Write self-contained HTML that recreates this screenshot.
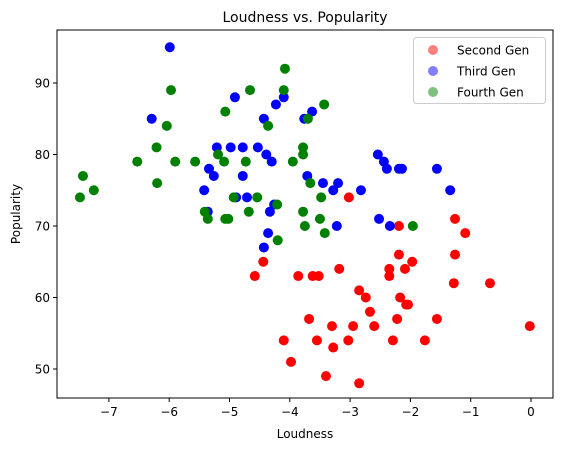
<!DOCTYPE html>
<html><head><meta charset="utf-8">
<style>
html,body{margin:0;padding:0;background:#fff;}
svg{display:block;font-family:"DejaVu Sans","Liberation Sans",sans-serif;}
</style></head>
<body>
<svg id="chart" width="563" height="453" xmlns="http://www.w3.org/2000/svg">
<g id="marks"></g>
<g id="axes"></g>
</svg>
<script>
const secondGenLoudness = [-1.26,-1.09,-2.19,-2.19,-1.97,-1.26,-2.35,-2.35,-2.09,-4.44,-4.58,-3.86,-3.62,-3.52,-3.18,-1.28,-0.68,-2.85,-2.74,-2.17,-2.07,-2.04,-2.67,-3.68,-2.22,-1.56,-3.30,-2.95,-2.60,-0.02,-4.10,-3.55,-3.03,-2.29,-1.76,-3.28,-3.98,-3.40,-2.85,-3.02];
const secondGenPopularity = [71,69,70,66,65,66,64,63,64,65,63,63,63,63,64,62,62,61,60,60,59,59,58,57,57,57,56,56,56,56,54,54,54,54,54,53,51,49,48,74];
const thirdGenLoudness = [-5.99,-4.91,-4.10,-4.23,-6.29,-4.43,-3.76,-5.21,-4.98,-4.78,-4.53,-4.39,-4.30,-5.34,-5.26,-4.78,-5.42,-4.89,-4.71,-4.26,-4.33,-5.36,-3.71,-3.63,-3.45,-3.20,-3.28,-2.82,-2.54,-2.44,-2.39,-2.19,-2.14,-2.52,-2.34,-3.22,-4.36,-4.43,-1.56,-1.34];
const thirdGenPopularity = [95,88,88,87,85,85,85,81,81,81,81,80,79,78,77,77,75,74,74,73,72,72,77,86,76,76,75,75,80,79,78,78,78,71,70,70,69,67,78,75];
const fourthGenLoudness = [-4.08,-5.97,-4.66,-4.10,-5.07,-6.04,-4.36,-6.21,-3.78,-5.19,-3.78,-6.53,-5.90,-5.57,-5.09,-4.73,-3.95,-7.43,-6.20,-7.25,-7.48,-4.93,-4.54,-4.21,-4.68,-5.41,-3.78,-5.36,-5.02,-3.43,-3.70,-3.66,-3.48,-3.75,-3.50,-3.42,-4.20,-1.96,-5.07];
const fourthGenPopularity = [92,89,89,89,86,84,84,81,81,80,80,79,79,79,79,79,79,77,76,75,74,74,74,73,72,72,72,71,71,87,85,76,74,70,71,69,68,70,71];
const xTicks = [-7,-6,-5,-4,-3,-2,-1,0];
const yTicks = [50,60,70,80,90];
const legendLabels = ["Second Gen","Third Gen","Fourth Gen"];

const NS="http://www.w3.org/2000/svg";
const L=57,R=553,T=30,B=398;
function xs(v){return 531+v*60.3;}
function ys(v){return 369-(v-50)*7.15;}
function mk(tag,attrs,parent){const e=document.createElementNS(NS,tag);for(const k in attrs)e.setAttribute(k,attrs[k]);parent.appendChild(e);return e;}
const marks=document.getElementById('marks');
const axes=document.getElementById('axes');
const series=[[secondGenLoudness,secondGenPopularity,'red','second-gen-point'],[thirdGenLoudness,thirdGenPopularity,'blue','third-gen-point'],[fourthGenLoudness,fourthGenPopularity,'green','fourth-gen-point']];
series.forEach(s=>{
  for(let i=0;i<s[0].length;i++){
    const c=mk('circle',{cx:xs(s[0][i]),cy:ys(s[1][i]),r:5,fill:s[2]},marks);
    
    
  }
});
const frame=mk('rect',{x:L,y:T,width:R-L,height:B-T,fill:'none',stroke:'#000','stroke-width':1},axes);


xTicks.forEach(t=>{
  const x=xs(t);
  mk('line',{x1:x,x2:x,y1:B,y2:B+4,stroke:'#000'},axes);
  const tx=mk('text',{x:x,y:B+18,'text-anchor':'middle','font-size':12},axes);
  tx.textContent=(t<0?'\u2212'+(-t):t);
  
  
});
yTicks.forEach(t=>{
  const y=ys(t);
  mk('line',{x1:L-4,x2:L,y1:y,y2:y,stroke:'#000'},axes);
  const tx=mk('text',{x:L-7,y:y+4.5,'text-anchor':'end','font-size':12},axes);
  tx.textContent=t;
  
  
});
const title=mk('text',{x:(L+R)/2,y:22,'text-anchor':'middle','font-size':14},axes);
title.textContent='Loudness vs. Popularity';


const xl=mk('text',{x:(L+R)/2,y:438,'text-anchor':'middle','font-size':12},axes);
xl.textContent='Loudness';


const yl=mk('text',{x:0,y:0,'text-anchor':'middle','font-size':12,transform:'translate(20,'+((T+B)/2)+') rotate(-90)'},axes);
yl.textContent='Popularity';


const lg=mk('g',{},axes);


mk('rect',{x:413.5,y:37.5,width:132,height:66,rx:3,fill:'#fff','fill-opacity':0.8,stroke:'#ccc'},lg);
legendLabels.forEach((lab,i)=>{
  const y=50+i*21;
  const c=mk('circle',{cx:433,cy:y,r:5,fill:series[i][2],'fill-opacity':0.5},lg);
  
  
  const t=mk('text',{x:457,y:y+4.5,'font-size':12},lg);
  t.textContent=lab;
  
  
});
</script>
</body></html>
